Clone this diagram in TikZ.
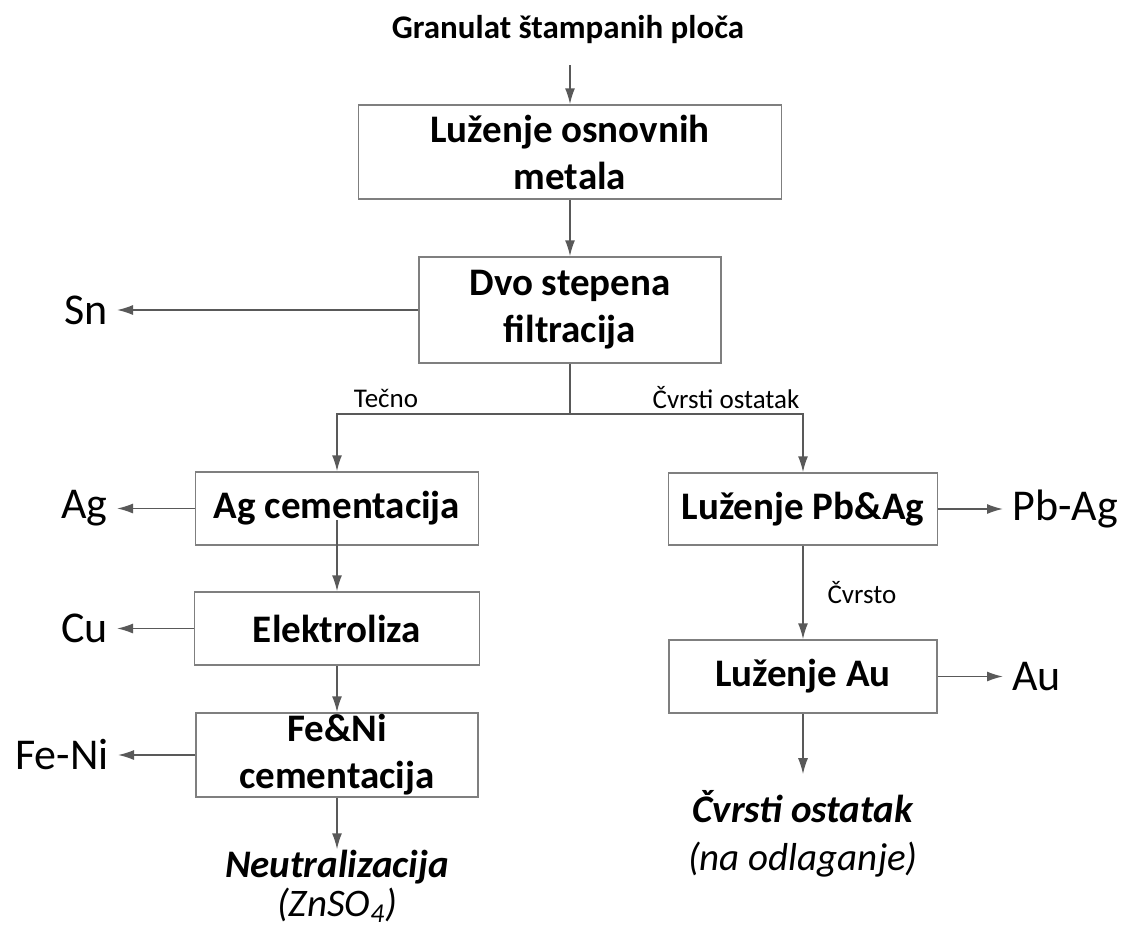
\documentclass[tikz,border=0pt]{standalone}
\usepackage{fontspec}
\setmainfont{Carlito}
\usetikzlibrary{arrows.meta,calc}
\definecolor{linegray}{HTML}{595959}
\definecolor{framegray}{HTML}{7F7F7F}

\begin{document}
\begin{tikzpicture}[x=0.5pt, y=-0.5pt,
    box/.style={draw=framegray, line width=0.75pt, align=center, inner sep=0pt,
        font=\fontsize{19.5}{23.5}\selectfont\bfseries},
    flow/.style={draw=linegray, line width=0.75pt, -{Latex[length=8pt,width=5pt]}},
    product/.style={inner xsep=4.5pt, inner ysep=0pt, font=\fontsize{22}{26}\selectfont},
    stream/.style={inner sep=0pt, font=\fontsize{13.5}{16}\selectfont},
    result/.style={align=center, inner sep=0pt}]
    \useasboundingbox (0,0) rectangle (1126,928);

    % Feed and the first two steps
    \node[inner sep=0pt, font=\fontsize{16.5}{20}\selectfont\bfseries] (feed) at (568,30) {Granulat štampanih ploča};
    \coordinate (feedout) at (570,65);
    \node[box, minimum width=211.5pt, minimum height=47pt] (luzenje) at (570,152) {Luženje osnovnih\\metala};
    \node[box, minimum width=151pt, minimum height=53pt] (filtr) at (570,310) {Dvo stepena\\filtracija};

    % Liquid branch (left)
    \node[box, minimum width=141.5pt, minimum height=36.5pt] (agcem) at (337,508.5) {Ag cementacija};
    \node[box, minimum width=142.5pt, minimum height=36.5pt] (elektro) at (337,628.5) {Elektroliza};
    \node[box, minimum width=141pt, minimum height=42pt] (fenicem) at (337,755) {Fe\&Ni\\cementacija};
    \node[result, font=\fontsize{19.5}{19.5}\selectfont] (neutr) at (337,886) {\textbf{\textit{Neutralizacija}}\\\textit{(ZnSO\textsubscript{4})}};

    % Solid branch (right)
    \node[box, minimum width=134.5pt, minimum height=36pt] (pbag) at (803,509) {Luženje Pb\&Ag};
    \node[box, minimum width=134pt, minimum height=36.5pt] (auluz) at (803,676.5) {Luženje Au};
    \node[result, font=\fontsize{19.5}{24}\selectfont] (ostatak) at (803,834) {\textbf{\textit{Čvrsti ostatak}}\\\textit{(na odlaganje)}};

    % Products
    \node[product, anchor=east] (sn) at (117,310) {Sn};
    \node[product, anchor=east] (ag) at (117,508.5) {Ag};
    \node[product, anchor=east] (cu) at (117,628.5) {Cu};
    \node[product, anchor=east] (feni) at (118,755) {Fe-Ni};
    \node[product, anchor=west] (pbagout) at (1003,509) {Pb-Ag};
    \node[product, anchor=west] (au) at (1003,676.5) {Au};

    % Split after filtration
    \coordinate (split) at (570,414);

    % Flows
    \draw[flow] (feedout) -- (luzenje.north);
    \draw[flow] (luzenje) -- (filtr);
    \draw[flow] (filtr.south) -- (split) -| (agcem.north);
    \draw[flow] (split) -| (pbag.north);
    \draw[flow] ($(agcem.center)+(0,11.5)$) -- (elektro.north);
    \draw[flow] (elektro) -- (fenicem);
    \draw[flow] (fenicem) -- (neutr);
    \draw[flow] (pbag) -- (auluz);
    \draw[flow, shorten >=8pt] (auluz) -- (ostatak);

    \draw[flow] (filtr.west) -- (filtr.west -| sn.east);
    \draw[flow] (agcem.west) -- (agcem.west -| ag.east);
    \draw[flow] (elektro.west) -- (elektro.west -| cu.east);
    \draw[flow] (fenicem.west) -- (fenicem.west -| feni.east);
    \draw[flow] (pbag.east) -- (pbag.east -| pbagout.west);
    \draw[flow] (auluz.east) -- (auluz.east -| au.west);

    % Stream labels
    \node[stream] (tecno) at (386,398) {Tečno};
    \node[stream] (cvrsti) at (726,398) {Čvrsti ostatak};
    \node[stream] (cvrsto) at (862,593) {Čvrsto};
\end{tikzpicture}
\end{document}
